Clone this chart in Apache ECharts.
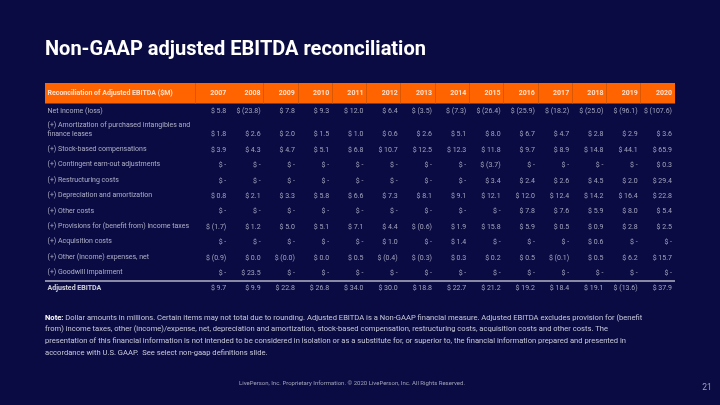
<!DOCTYPE html>
<html><head><meta charset="utf-8">
<script src="https://cdn.jsdelivr.net/npm/echarts@6/dist/echarts.min.js"></script>
<style>html,body{margin:0;padding:0;background:#0a0b42;}#c{width:720px;height:405px;}</style>
</head><body><div id="c"></div>
<script>
// ---- data ----
const years = ['2007','2008','2009','2010','2011','2012','2013','2014','2015','2016','2017','2018','2019','2020'];
const headerTitle = 'Reconciliation of Adjusted EBITDA ($M)';
const rowLabels = [
  'Net income (loss)',
  '(+) Amortization of purchased intangibles and\nfinance leases',
  '(+) Stock-based compensations',
  '(+) Contingent earn-out adjustments',
  '(+) Restructuring costs',
  '(+) Depreciation and amortization',
  '(+) Other costs',
  '(+) Provisions for (benefit from) income taxes',
  '(+) Acquisition costs',
  '(+) Other (income) expenses, net',
  '(+) Goodwill impairment',
  'Adjusted EBITDA'
];
const netIncome     = [5.8, -23.8, 7.8, 9.3, 12.0, 6.4, -3.5, -7.3, -26.4, -25.9, -18.2, -25.0, -96.1, -107.6];
const amortization  = [1.8, 2.6, 2.0, 1.5, 1.0, 0.6, 2.6, 5.1, 8.0, 6.7, 4.7, 2.8, 2.9, 3.6];
const stockComp     = [3.9, 4.3, 4.7, 5.1, 6.8, 10.7, 12.5, 12.3, 11.8, 9.7, 8.9, 14.8, 44.1, 65.9];
const contingent    = [null, null, null, null, null, null, null, null, -3.7, null, null, null, null, 0.3];
const restructuring = [null, null, null, null, null, null, null, null, 3.4, 2.4, 2.6, 4.5, 2.0, 29.4];
const depreciation  = [0.8, 2.1, 3.3, 5.8, 6.6, 7.3, 8.1, 9.1, 12.1, 12.0, 12.4, 14.2, 16.4, 22.8];
const otherCosts    = [null, null, null, null, null, null, null, null, null, 7.8, 7.6, 5.9, 8.0, 5.4];
const provisions    = [-1.7, 1.2, 5.0, 5.1, 7.1, 4.4, -0.6, 1.9, 15.8, 5.9, 0.5, 0.9, 2.8, 2.5];
const acquisition   = [null, null, null, null, null, 1.0, null, 1.4, null, null, null, 0.6, null, null];
const otherIncome   = [-0.9, 0.0, -0.04, 0.0, 0.5, -0.4, -0.3, 0.3, 0.2, 0.5, -0.1, 0.5, 6.2, 15.7];
const goodwill      = [null, 23.5, null, null, null, null, null, null, null, null, null, null, null, null];
const adjEbitda     = [9.7, 9.9, 22.8, 26.8, 34.0, 30.0, 18.8, 22.7, 21.2, 19.2, 18.4, 19.1, -13.6, 37.9];
const rows = [netIncome, amortization, stockComp, contingent, restructuring, depreciation,
              otherCosts, provisions, acquisition, otherIncome, goodwill, adjEbitda];
// header dividers (between columns; none between 2007 and 2008)
const headerDividers = [0, 2, 3, 4, 5, 6, 7, 8, 9, 10, 11, 12, 13];

// ---- layout ----
const LABEL_UNITS = 4.375;   // label column width in column units
const ROW_PX = 15.4;
const HEADER_MIN = -1.36;
const HEADER_Y = -0.68;
const LINE_H = 9.3;
const tops = []; let t = 0;
rowLabels.forEach(l => { tops.push(t); t += l.split('\n').length > 1 ? 1.5 : 1; });
const totalRows = t;
const GRID_TOP = 83;
const gridH = (totalRows - HEADER_MIN) * ROW_PX;

function fmt(v) {
  if (v == null) return '$ -';
  if (v < 0) return '$ (' + Math.abs(v).toFixed(1) + ')';
  return '$ ' + v.toFixed(1);
}
const FONT = 'Roboto';
const LABEL_COLOR = '#d6d6e6';
const VALUE_COLOR = '#c8c8dc';

const series = [];
// header
series.push({
  type: 'scatter', symbolSize: 1, itemStyle: {color: 'rgba(0,0,0,0)'}, silent: true, z: 5,
  data: years.map((y, i) => [i + 1, HEADER_Y, y]),
  label: {show: true, position: 'left', distance: 2.5, formatter: p => p.data[2],
          color: '#fff', fontSize: 7, fontWeight: 'bold', fontFamily: FONT},
  markArea: {silent: true, itemStyle: {color: '#ff6400'}, label: {show: false},
    data: [[{coord: [-LABEL_UNITS, HEADER_MIN]}, {coord: [years.length, -0.03]}]]},
  markLine: {silent: true, symbol: 'none', label: {show: false},
    lineStyle: {color: '#d95700', width: 1, type: 'solid'},
    data: headerDividers.map(x => [{coord: [x, HEADER_MIN]}, {coord: [x, -0.03]}])}
});
series.push({
  type: 'scatter', symbolSize: 1, itemStyle: {color: 'rgba(0,0,0,0)'}, silent: true, z: 5,
  data: [[-LABEL_UNITS, HEADER_Y, headerTitle]],
  label: {show: true, position: 'right', distance: 2, formatter: p => p.data[2],
          color: '#fff', fontSize: 7, fontWeight: 'bold', fontFamily: FONT}
});
// row labels
series.push({
  type: 'scatter', symbolSize: 1, itemStyle: {color: 'rgba(0,0,0,0)'}, silent: true,
  data: rowLabels.map((l, r) => {
    const lines = l.split('\n').length;
    const h = lines > 1 ? 1.5 : 1;
    const last = r === rowLabels.length - 1;
    return {value: [-LABEL_UNITS, tops[r] + h / 2, l],
      label: last ? {color: '#ffffff', fontWeight: 'bold'} : {}};
  }),
  label: {show: true, position: 'right', distance: 2, formatter: p => p.data.value[2],
          color: LABEL_COLOR, fontSize: 7, fontFamily: FONT, lineHeight: LINE_H, offset: [0, -0.8]},
  markLine: {silent: true, symbol: 'none', label: {show: false},
    lineStyle: {color: '#b4b4c8', width: 1.6, type: 'solid'},
    data: [[{coord: [-LABEL_UNITS, tops[rows.length - 1]]}, {coord: [years.length, tops[rows.length - 1]]}]]}
});
// values
rows.forEach((vals, r) => {
  const lines = rowLabels[r].split('\n').length;
  const h = lines > 1 ? 1.5 : 1;
  const y = tops[r] + h - 0.5;
  series.push({
    name: rowLabels[r], type: 'scatter', symbolSize: 1, itemStyle: {color: 'rgba(0,0,0,0)'}, silent: true,
    data: vals.map((v, i) => [i + 1, y, v]),
    label: {show: true, position: 'left', distance: 2.5, formatter: p => fmt(p.data[2]),
            color: VALUE_COLOR, fontSize: 7, fontFamily: FONT}
  });
});

const noteText = '{b|Note:} Dollar amounts in millions. Certain items may not total due to rounding. Adjusted EBITDA is a Non-GAAP financial measure. Adjusted EBITDA excludes provision for (benefit\n' +
  'from) income taxes, other (income)/expense, net, depreciation and amortization, stock-based compensation, restructuring costs, acquisition costs and other costs. The\n' +
  'presentation of this financial information is not intended to be considered in isolation or as a substitute for, or superior to, the financial information prepared and presented in\n' +
  'accordance with U.S. GAAP.  See select non-gaap definitions slide.';

const chart = echarts.init(document.getElementById('c'), null, {renderer: 'canvas'});
chart.setOption({
  backgroundColor: '#0a0b42',
  animation: false,
  grid: {left: 45, right: 45, top: GRID_TOP, height: gridH},
  xAxis: {type: 'value', min: -LABEL_UNITS, max: years.length, show: false},
  yAxis: {type: 'value', inverse: true, min: HEADER_MIN, max: totalRows, show: false},
  series: series,
  graphic: [
    {type: 'text', left: 45, top: 40, style: {text: 'Non-GAAP adjusted EBITDA reconciliation',
      fill: '#ffffff', font: 'bold 20px Roboto'}},
    {type: 'text', left: 45, top: 312, style: {text: noteText, fill: '#c8c8da',
      fontSize: 7.6, fontFamily: FONT, lineHeight: 11.7,
      rich: {b: {fontWeight: 'bold', fill: '#ffffff', fontSize: 7.6, fontFamily: FONT}}}},
    {type: 'text', x: 352, y: 383, style: {text: 'LivePerson, Inc. Proprietary Information. \u00a9 2020 LivePerson, Inc. All Rights Reserved.',
      fill: '#a0a0b8', fontSize: 6, fontFamily: FONT, align: 'center', verticalAlign: 'middle'}},
    {type: 'text', x: 707, y: 388, style: {text: '21', fill: '#a0a0b8', fontSize: 8.5, fontFamily: FONT,
      align: 'center', verticalAlign: 'middle'}}
  ]
});
</script></body></html>
